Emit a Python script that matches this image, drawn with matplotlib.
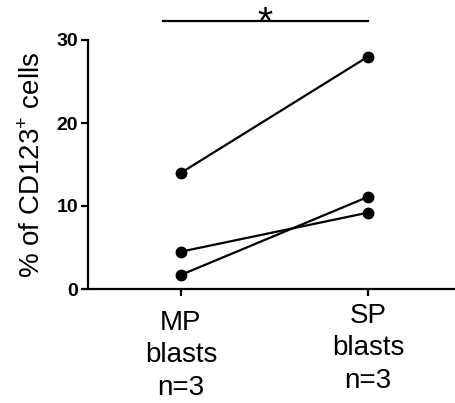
import matplotlib
matplotlib.use("Agg")
from matplotlib import pyplot as plt

plt.rcParams['font.family'] = ['Liberation Sans', 'DejaVu Sans']
plt.rcParams['mathtext.fontset'] = 'custom'
plt.rcParams['mathtext.rm'] = 'Liberation Sans'

groups = ["MP\nblasts\nn=3", "SP\nblasts\nn=3"]
mp_values = [14.0, 4.5, 1.7]
sp_values = [28.0, 9.2, 11.1]
y_ticks = [0, 10, 20, 30]

fig = plt.figure(figsize=(4.55, 4.03), dpi=100)
ax = fig.add_axes([88 / 455, 114 / 403, 367 / 455, 249 / 403])

for a, b in zip(mp_values, sp_values):
    ax.plot([0, 1], [a, b], color="black", linewidth=1.6, marker="o",
            markersize=7.5, clip_on=False, zorder=3)

ax.set_xlim(-0.497, 1.465)
ax.set_ylim(0, 30)
ax.set_yticks(y_ticks)
ax.set_xticks([0, 1])
ax.set_xticklabels([])
for lbl in ax.get_yticklabels():
    lbl.set_fontweight("bold")
    lbl.set_fontsize(14)

# group labels (SP sits a little higher in the original)
for i, (name, dy) in enumerate(zip(groups, [-15, -10])):
    ax.annotate(name, xy=(i, 0), xycoords=ax.get_xaxis_transform(),
                xytext=(0, dy), textcoords="offset points",
                ha="center", va="top", fontsize=20, linespacing=1.32)

ax.set_ylabel("% of CD123$^{\\mathrm{+}}$ cells", fontsize=20, labelpad=8)

ax.spines["top"].set_visible(False)
ax.spines["right"].set_visible(False)
ax.spines["left"].set_linewidth(1.6)
ax.spines["bottom"].set_linewidth(1.6)
ax.tick_params(axis="both", width=1.6, length=5, direction="out")
ax.tick_params(axis="y", pad=2)

# significance bar
ax.plot([-0.096, 1.0], [32.3, 32.3], color="black", linewidth=1.6, clip_on=False)
ax.text(0.45, 29.8, "*", ha="center", va="bottom", fontsize=28, clip_on=False)

fig.savefig("out.png", dpi=100)
